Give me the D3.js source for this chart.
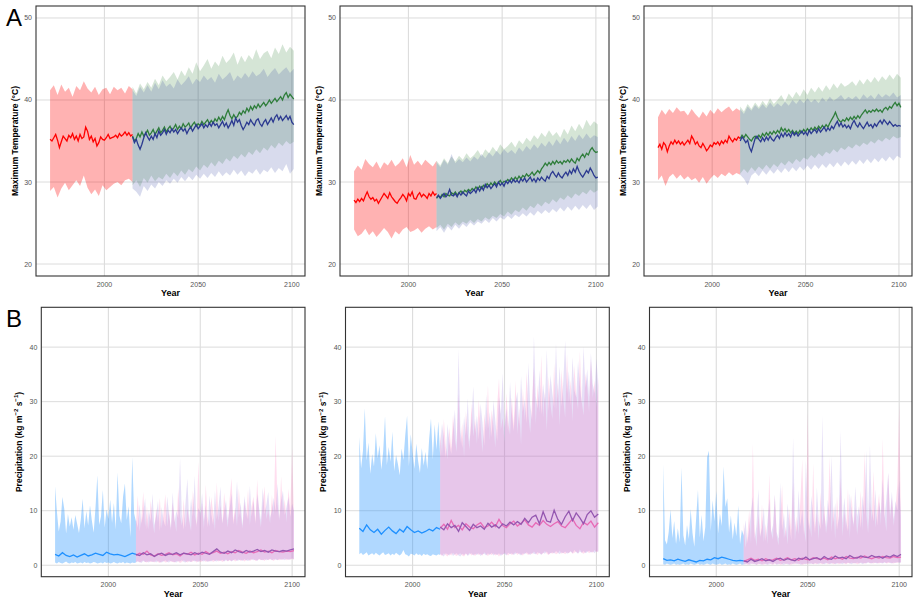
<!DOCTYPE html>
<html>
<head>
<meta charset="utf-8">
<script src="https://cdn.jsdelivr.net/npm/d3@7"></script>
<style>
  body { margin: 0; background: #fff; }
  svg { display: block; font-family: "Liberation Sans", Arial, sans-serif; }
</style>
</head>
<body>
<svg id="chart" width="920" height="603"></svg>
<script>
// ---- time axis ----
const histStart = 1971;
const futStart = 2015;
const yearTicks = [2000, 2050, 2100];
const tempTicks = [20, 30, 40, 50];
const precTicks = [0, 10, 20, 30, 40];

// ---- A1 : temperature, hist yearly means, bands every 2 years ----
const a1HistMean = [35.2,35.0,35.4,35.8,35.1,34.2,34.9,35.6,35.3,35.0, 35.7,35.4,35.9,35.2,35.6,35.0,35.8,35.3,35.5,36.7, 36.2,35.2,35.6,34.9,35.3,34.4,34.8,35.5,35.2,35.1, 35.4,35.8,35.3,35.4,35.5,35.7,35.4,35.9,35.6,35.8, 36.1,35.7,36.0,35.6,35.8];
const a1HistHi = [41.2,41.8,40.6,41.9,41.0,41.5,40.4,41.7,41.2,42.3,41.4,40.9,41.6,40.6,41.3,41.5,40.7,41.6,41.2,41.5,40.8,41.7,41.3];
const a1HistLo = [28.9,29.4,28.1,29.2,29.9,29.0,29.6,30.2,29.5,30.8,29.3,28.5,29.1,28.3,29.6,29.0,29.4,29.8,30.0,29.6,30.2,30.4,30.0];
const a1GreenMean = [35.6,35.0,35.3,35.9,35.5,36.1,35.6,35.9,36.3,35.7, 36.0,36.4,35.8,36.2,36.6,36.0,36.3,36.7,36.1,36.5, 36.8,36.3,36.6,37.0,36.4,36.8,36.5,37.1,36.7,36.9, 37.2,36.6,37.0,37.3,36.8,37.1,36.9,37.4,37.0,37.3, 37.6,37.1,37.5,37.2,37.7,37.4,37.9,37.5,38.0,37.6, 38.3,38.8,38.1,37.7,38.2,37.8,38.0,38.5,38.2,38.7, 38.4,39.0,38.6,39.2,38.8,39.3,39.0,39.5,39.1,39.4, 39.7,39.3,39.6,40.0,39.6,39.9,40.2,39.8,40.1,40.4, 40.0,40.6,40.9,40.3,40.7,40.4,40.1];
const a1BlueMean = [35.5,34.8,35.2,34.5,34.0,34.6,35.4,36.0,35.5,35.1, 35.6,35.2,35.9,35.4,36.2,35.7,36.0,36.4,35.8,36.3, 36.0,36.5,36.1,36.4,35.9,36.3,36.6,36.2,36.5,35.9, 36.4,36.7,36.2,36.6,37.0,36.5,36.8,37.1,36.6,37.0, 36.7,37.2,36.8,37.3,36.9,37.1,36.6,37.0,37.4,36.8, 37.2,36.6,37.0,37.5,36.9,37.8,37.3,37.6,36.9,36.4, 36.8,37.3,37.0,37.6,37.2,36.9,37.5,37.7,37.1,36.8, 37.3,37.6,37.0,37.4,37.8,37.3,37.9,38.2,37.6,38.0, 37.5,37.8,38.1,37.6,38.0,37.3,37.0];
const a1GreenHi = [41.6,40.8,42.0,41.3,42.2,41.5,42.6,41.8,43.0,42.3, 42.8,43.4,42.5,43.6,42.9,44.0,43.2,44.6,43.5,44.2, 45.0,43.8,44.7,44.1,45.4,44.5,45.0,45.8,44.3,45.4, 44.6,45.5,44.9,46.2,45.0,45.7,46.0,45.1,46.4,45.6, 46.8,45.8,46.5,46.0];
const a1BlueHi = [41.2,40.5,41.6,40.9,41.8,41.0,42.1,41.3,42.4,41.6, 42.0,41.4,42.5,41.8,42.3,42.9,41.9,42.6,42.2,43.0, 42.4,42.8,42.1,43.2,42.5,42.9,43.4,42.3,43.0,42.6, 43.3,42.7,43.5,42.9,43.2,43.8,42.8,43.4,43.9,43.1, 43.6,44.0,43.3,43.8];
const a1GreenLo = [29.6,30.2,29.4,30.5,29.9,30.8,30.1,30.6,30.3,31.0, 30.5,31.2,30.7,31.4,30.9,31.6,31.2,31.9,31.4,32.1, 31.7,32.4,31.9,32.6,32.2,32.9,32.5,33.2,32.8,33.4, 33.0,33.7,33.3,34.0,33.5,34.2,33.8,34.5,34.1,34.8, 34.4,35.0,34.6,34.9];
const a1BlueLo = [29.2,28.8,28.2,29.5,28.9,29.7,29.2,30.0,29.5,30.2, 29.8,30.4,29.9,30.6,30.1,30.7,30.2,30.9,30.4,31.0, 30.5,31.1,30.6,31.3,30.7,31.2,30.8,31.5,30.9,31.4, 30.7,31.3,31.0,31.6,30.9,31.5,31.2,31.8,31.1,31.7, 31.3,32.2,31.0,31.6];

// ---- A2 ----
const a2HistMean = [27.8,27.5,27.9,27.6,28.0,27.7,28.3,28.8,28.2,27.9, 28.1,27.7,27.9,27.4,27.8,28.2,28.6,28.3,28.0,28.7, 28.2,27.9,27.6,27.4,27.8,28.1,28.5,28.2,27.7,28.6, 28.3,28.8,28.0,27.9,28.4,28.7,28.2,28.5,28.3,28.0, 28.6,28.3,28.8,28.4,28.6];
const a2HistHi = [31.3,32.0,31.5,32.8,32.2,31.8,32.5,31.6,32.4,32.0,32.7,31.9,32.3,32.9,31.8,33.3,32.1,32.6,32.0,32.7,32.3,31.9,32.6];
const a2HistLo = [24.2,23.4,23.7,24.3,23.5,24.0,23.3,23.8,24.4,23.9,23.1,24.0,23.6,24.2,24.5,23.9,24.1,24.4,23.8,24.3,24.6,24.2,24.5];
const a2GreenMean = [28.0,28.3,28.1,28.5,28.2,28.6,28.4,28.3,28.7,28.5, 28.8,28.4,28.7,28.9,28.6,29.0,28.8,29.1,28.9,29.2, 29.0,29.4,29.1,29.5,29.2,29.6,29.4,29.8,29.5,29.9, 29.6,30.0,29.7,29.9,30.2,29.8,30.1,30.0,30.3,30.1, 30.5,30.2,30.6,30.3,30.7,30.4,30.8,30.6,31.0,30.7, 30.9,31.2,30.8,31.1,31.4,31.1,31.6,31.9,32.3,32.0, 32.4,32.1,32.5,32.2,32.6,32.3,32.5,32.2,32.6,32.4, 32.7,32.4,32.8,32.5,32.3,32.9,32.6,33.1,33.4,33.0, 33.5,33.3,33.9,34.2,33.8,33.6,33.7];
const a2BlueMean = [28.1,28.4,28.0,28.3,28.6,28.2,28.5,29.1,28.4,28.3, 28.6,28.2,28.7,28.4,28.8,28.5,28.3,28.9,28.6,28.8, 29.1,28.7,29.3,28.9,29.4,29.0,29.7,29.3,29.6,29.2, 29.5,29.8,29.4,30.0,29.6,29.9,29.5,30.1,29.8,30.2, 29.9,30.3,30.0,30.2,29.9,30.4,30.1,30.5,30.0,30.3, 30.6,30.1,30.4,30.0,30.5,30.2,30.6,30.3,30.1,30.7, 30.4,31.0,31.3,30.9,30.6,31.1,30.7,30.5,30.9,31.2, 30.8,31.4,31.0,31.6,31.2,31.9,31.3,30.9,30.6,31.0, 31.4,31.1,31.7,31.3,30.8,30.5,30.6];
const a2GreenHi = [32.6,32.0,32.9,32.3,33.1,32.5,33.2,32.7,33.5,32.9, 33.3,33.9,33.1,34.0,33.5,34.3,33.7,34.6,34.0,34.4, 34.9,34.2,35.1,34.6,35.4,34.9,35.7,35.2,36.0,35.5, 36.3,35.6,36.1,35.4,36.5,35.8,36.9,36.2,37.1,36.4, 37.6,36.8,37.4,37.0];
const a2BlueHi = [32.4,31.8,32.7,32.1,33.4,32.3,32.8,32.4,33.0,32.5, 33.1,32.7,33.4,32.9,33.6,33.1,33.8,33.3,34.0,33.5, 33.9,33.4,34.2,33.7,34.4,33.9,34.6,34.1,34.8,34.3, 35.0,34.4,35.2,34.6,35.4,34.8,35.6,35.0,35.8,35.2, 35.9,35.3,35.7,35.5];
const a2GreenLo = [24.4,24.8,24.2,24.9,24.5,25.1,24.7,25.2,24.9,25.4, 25.0,25.5,25.2,25.7,25.4,25.9,25.6,26.1,25.8,26.4, 26.0,26.6,26.3,26.9,26.5,27.1,26.8,27.4,27.0,27.6, 27.3,27.9,27.5,28.1,27.8,28.4,28.0,28.6,28.3,28.8, 28.5,29.1,28.7,29.0];
const a2BlueLo = [24.0,24.5,23.8,24.6,24.1,24.8,24.3,24.9,24.5,25.1, 24.7,25.2,24.9,25.4,25.0,25.6,25.2,25.7,25.4,25.9, 25.5,26.0,25.7,26.2,25.8,26.3,25.9,26.5,26.1,26.6, 26.2,26.7,26.3,26.9,26.4,27.0,26.5,27.1,26.6,27.2, 26.7,27.3,26.6,27.0];

// ---- A3 ----
const a3HistMean = [34.2,34.6,34.0,34.8,34.5,33.7,34.4,34.9,34.6,35.1, 34.7,35.0,34.6,34.9,34.5,34.8,35.1,34.7,35.6,35.2, 34.6,34.9,34.4,34.2,34.7,34.3,33.8,34.1,34.5,34.3, 34.8,34.6,34.9,34.5,35.0,34.7,35.1,34.8,35.6,35.2, 34.9,35.3,35.1,35.5,35.3];
const a3HistHi = [37.9,38.8,38.2,38.9,38.4,39.1,38.6,38.7,38.1,38.9,38.3,37.8,38.6,38.0,38.8,38.3,39.0,38.5,38.9,39.2,38.6,39.0,38.7];
const a3HistLo = [30.2,30.8,29.5,30.6,31.0,30.4,30.9,30.3,30.7,30.2,30.5,29.9,30.6,29.8,30.4,30.9,30.5,31.0,30.7,31.2,30.8,31.1,30.9];
const a3GreenMean = [35.3,35.7,35.4,35.8,35.5,35.2,35.0,35.4,35.6,35.3, 35.7,35.4,35.9,35.6,36.0,35.7,36.1,35.8,36.2,35.9, 36.3,36.0,36.6,36.2,36.5,36.1,36.4,36.0,36.3,35.9, 36.2,35.9,36.3,36.0,36.4,36.1,36.5,36.2,36.6,36.3, 36.7,36.4,36.8,36.5,36.9,36.6,37.0,36.7,37.2,37.6, 38.0,38.5,37.9,37.5,37.3,37.6,37.4,37.8,37.5,37.9, 37.6,38.0,37.7,38.1,37.8,38.2,38.5,38.8,38.4,38.7, 38.5,38.8,38.6,38.9,38.6,38.8,38.5,38.9,39.1,38.8, 39.2,39.0,39.4,39.7,39.3,39.6,39.1];
const a3BlueMean = [35.0,35.5,35.2,34.8,35.1,34.2,33.7,34.5,35.3,35.6, 35.2,34.9,35.4,35.0,35.5,35.1,35.6,35.2,35.0,35.4, 35.7,35.3,35.9,35.5,36.0,35.6,35.9,35.5,36.1,35.7, 36.0,35.6,35.9,36.2,35.8,36.1,35.7,36.3,35.9,36.2, 36.4,36.0,36.5,36.1,36.4,36.7,36.2,36.6,36.3,36.8, 36.5,37.0,37.4,36.8,37.2,36.7,37.0,36.6,36.9,36.5, 37.1,37.5,37.0,36.7,37.2,36.8,36.5,36.9,37.3,36.8, 37.0,36.6,37.1,36.8,37.2,37.5,37.1,37.6,37.3,37.0, 37.4,37.1,36.8,37.0,36.8,36.9,36.8];
const a3GreenHi = [39.2,38.6,39.5,38.9,39.7,39.1,39.9,39.3,40.2,39.5, 40.0,40.6,39.8,40.8,40.2,41.0,40.4,41.3,40.6,41.5, 40.9,41.6,41.0,41.8,41.2,42.0,41.4,42.1,41.6,41.9, 42.3,41.7,42.5,41.9,42.6,42.1,42.8,42.2,42.9,42.4, 43.1,42.5,43.2,42.7];
const a3BlueHi = [38.9,38.3,39.2,38.7,39.4,38.9,39.5,39.0,39.7,39.1, 39.6,39.2,39.8,39.3,40.0,39.5,40.1,39.6,40.2,39.7, 40.1,39.6,40.3,39.8,40.4,39.9,40.2,40.6,40.0,40.4, 40.1,40.5,40.0,40.7,40.2,40.6,40.1,40.8,40.3,40.7, 40.4,40.9,40.3,40.6];
const a3GreenLo = [31.0,31.6,31.1,31.8,31.3,31.9,31.5,32.1,31.6,32.2, 31.8,32.4,32.0,32.6,32.2,32.8,32.4,33.0,32.7,33.3, 32.9,33.5,33.1,33.7,33.4,34.0,33.6,34.2,33.9,34.4, 34.1,34.6,34.3,34.8,34.5,35.0,34.7,35.2,34.9,35.4, 35.1,35.6,35.3,35.5];
const a3BlueLo = [30.9,30.4,29.6,30.8,31.2,30.7,31.4,30.9,31.5,31.0, 31.6,31.1,31.7,31.2,31.8,31.3,31.9,31.4,32.0,31.5, 32.1,31.6,32.2,31.7,32.3,31.8,32.4,31.9,32.5,32.0, 32.6,32.1,32.7,32.2,32.8,32.3,32.9,32.4,33.0,32.5, 33.1,32.6,33.2,32.9];

// ---- B1 : precipitation, means every 2 years, bands yearly ----
const b1HistMean = [2.0,1.7,2.3,1.8,1.6,1.9,1.5,1.8,2.1,1.7,1.9,2.2,2.0,1.8,2.4,2.1,1.9,2.0,1.8,1.6,1.9,2.2,2.0];
const b1HistHi = [14.5,9.8,6.2,8.0,12.5,10.3,5.8,9.4,7.1,8.8, 6.5,9.2,7.6,5.9,8.4,12.2,6.8,9.9,7.3,11.0, 8.2,6.0,10.6,16.5,7.4,9.0,13.8,6.9,10.2,8.5, 12.0,7.8,11.4,6.6,17.0,9.1,7.7,12.6,15.0,8.3, 10.8,5.2,19.8,9.5,8.0];
const b1HistLo = [0.5,0.3,0.6,0.4,0.3,0.5,0.7,0.4,0.3,0.5, 0.4,0.6,0.3,0.4,0.5,0.3,0.6,0.4,0.5,0.3, 0.4,0.6,0.5,0.3,0.4,0.5,0.3,0.6,0.4,0.5, 0.3,0.4,0.6,0.4,0.3,0.5,0.4,0.6,0.3,0.5, 0.4,0.3,0.5,0.4,0.5];
const b1PinkMean = [1.8,2.2,2.0,2.6,1.9,1.7,2.1,1.8,2.0,2.3, 1.9,2.1,1.7,2.2,2.0,2.4,1.9,2.2,2.0,2.5, 2.1,2.3,2.6,2.2,2.4,2.1,2.5,2.3,2.7,2.4, 2.2,2.6,2.3,2.5,2.8,2.4,2.6,2.3,2.7,2.5, 2.4,2.6,2.5,2.7];
const b1PurpleMean = [2.0,1.8,2.3,1.9,2.1,1.6,2.0,2.2,1.8,2.1, 2.0,2.3,1.9,2.2,2.1,1.9,2.3,2.0,2.4,2.2, 2.0,2.5,3.0,2.4,2.2,2.6,2.3,2.8,2.5,2.3, 2.7,2.4,2.6,2.9,2.5,2.7,2.4,2.8,2.6,2.5, 2.7,2.6,2.8,3.0];
const b1PinkHi = [7.5,12.8,6.2,9.0,13.5,7.0,10.8,6.5,11.9,8.2, 5.8,10.5,7.9,12.4,6.8,9.6,13.0,7.2,10.1,6.4, 11.5,8.4,6.1,14.2,9.0,7.3,12.1,6.9,10.4,8.0, 6.3,13.7,9.2,7.5,19.0,8.6,11.3,6.7,14.8,8.9, 7.1,12.5,9.7,6.4,15.2,8.1,11.0,7.6,13.3,9.5, 6.9,12.2,16.0,8.3,10.6,7.2,14.1,9.3,6.8,11.7, 8.7,13.9,7.4,10.9,12.6,8.0,15.7,9.4,7.0,11.2, 14.5,8.5,10.2,7.7,12.9,9.1,23.8,11.4,8.2,16.3, 9.6,12.1,7.9,14.0,10.3,21.5,9.0];
const b1PurpleHi = [8.4,6.9,11.2,7.6,9.8,12.3,6.6,10.2,8.0,13.1, 7.4,9.1,11.8,6.3,10.7,8.3,7.1,12.6,9.4,6.8, 13.4,7.9,10.0,8.6,19.6,9.2,6.5,11.6,15.9,7.8, 12.3,8.9,16.4,7.0,10.5,9.6,13.2,8.1,11.0,6.9, 12.8,9.3,7.4,13.6,8.5,10.9,14.4,7.7,9.8,12.0, 8.2,10.4,13.1,7.5,9.9,15.4,8.8,11.5,7.3,12.7, 10.1,8.4,14.6,9.0,11.8,7.6,13.0,10.6,8.3,14.2, 9.4,11.1,13.5,8.7,10.0,12.4,9.8,15.0,8.6,11.9, 13.7,9.2,10.8,12.5,8.9,11.3,10.0];
const b1PinkLo = [0.6,0.8,0.5,0.7,0.9,0.6,0.5,0.8,0.6,0.7, 0.5,0.9,0.6,0.4,0.7,0.8,0.5,0.6,0.9,0.7, 0.6,0.5,0.8,0.7,0.4,0.6,0.9,0.7,0.5,0.8, 0.6,0.7,0.9,0.5,0.8,0.6,0.7,1.0,0.6,0.8, 0.7,0.9,0.6,0.8,1.0,0.7,0.9,0.6,0.8,1.1, 0.7,0.9,0.8,1.0,0.7,0.9,1.1,0.8,1.0,0.7, 0.9,1.1,0.8,1.0,1.2,0.8,0.9,1.1,0.9,1.0, 0.8,1.2,0.9,1.1,1.0,0.8,1.2,1.0,0.9,1.1, 1.0,1.3,0.9,1.1,1.0,1.2,1.0];
const b1PurpleLo = [0.5,0.7,0.6,0.4,0.8,0.6,0.7,0.5,0.8,0.6, 0.7,0.5,0.8,0.6,0.5,0.7,0.9,0.6,0.5,0.8, 0.7,0.6,0.5,0.8,0.7,0.9,0.6,0.5,0.8,0.7, 0.6,0.9,0.7,0.8,0.6,0.9,0.8,0.7,0.9,0.6, 0.8,0.7,1.0,0.8,0.7,0.9,0.8,1.0,0.7,0.9, 0.8,1.0,0.7,0.9,1.1,0.8,0.9,1.0,0.8,1.1, 0.9,0.8,1.0,1.1,0.9,1.0,0.8,1.2,1.0,0.9, 1.1,0.9,1.0,1.2,0.9,1.1,1.0,0.9,1.2,1.0, 1.1,0.9,1.2,1.0,1.1,1.3,1.1];

// ---- B2 ----
const b2HistMean = [6.8,6.2,7.4,6.5,6.0,6.6,5.7,6.4,7.0,6.3,5.8,6.6,6.1,7.1,6.5,6.0,6.3,5.9,6.2,6.6,6.3,6.9,6.6];
const b2HistHi = [23.5,17.8,21.0,28.8,19.2,22.5,16.8,20.4,18.1,24.2, 19.6,22.0,17.5,20.9,27.3,18.4,21.7,19.0,24.5,17.3, 20.2,18.6,16.5,21.4,19.3,23.8,27.4,18.2,24.0,20.6, 17.7,22.3,19.1,16.9,21.5,18.3,20.8,17.6,23.1,26.9, 19.4,25.8,21.2,26.4,20.0];
const b2HistLo = [2.0,2.3,1.9,2.1,2.4,1.8,2.0,2.2,1.9,2.3, 2.0,1.8,2.1,2.4,1.9,2.0,2.2,1.8,2.1,1.9, 2.3,2.0,1.8,2.1,2.8,2.0,1.9,1.6,2.1,2.0, 1.8,2.2,1.9,2.0,1.7,2.1,1.9,2.0,1.8,1.7, 2.0,1.9,1.8,2.0,1.9];
const b2PinkMean = [6.8,7.5,6.6,8.2,6.9,7.3,6.5,7.6,7.0,6.7, 7.4,7.8,6.9,7.2,7.9,7.1,8.4,7.3,6.9,7.6, 8.1,7.2,7.7,8.3,7.4,7.0,7.8,7.3,8.2,7.5, 7.1,7.6,8.0,7.2,6.9,7.7,8.5,7.3,6.7,7.9, 7.4,8.1,7.0,7.8];
const b2PurpleMean = [7.0,6.5,7.6,6.9,7.3,6.2,7.8,7.1,6.4,7.5, 6.9,7.2,6.6,7.7,7.0,7.4,6.8,7.6,7.2,7.9, 7.4,8.0,7.5,8.6,7.8,8.8,9.2,7.6,9.8,8.1, 7.9,10.1,8.4,7.5,8.9,9.9,8.2,9.6,8.7,7.6, 9.3,10.0,8.8,9.4];
const b2PinkHi = [24.5,20.2,26.8,22.0,19.5,25.3,21.4,27.6,23.0,20.8, 31.5,22.4,26.1,19.8,28.3,24.0,21.2,29.7,23.6,26.9, 22.3,30.4,25.1,20.7,27.8,24.6,33.0,22.9,28.5,25.4, 21.6,29.2,34.3,24.8,27.0,22.5,31.6,26.3,23.9,30.8, 25.7,33.8,24.1,28.9,22.2,32.4,26.6,35.5,27.4,24.3, 30.1,36.2,25.9,33.1,28.0,38.5,27.2,31.9,24.7,34.6, 29.5,26.8,37.0,28.4,33.5,25.6,35.9,30.3,27.1,38.8, 29.8,34.0,26.4,36.7,31.2,28.6,39.3,30.0,27.5,35.2, 32.6,28.1,37.8,30.7,33.9,29.0,34.5];
const b2PurpleHi = [21.8,26.0,23.3,19.7,25.9,22.6,20.4,24.7,28.5,22.1, 39.6,24.9,21.5,27.3,23.8,30.6,22.7,26.4,32.8,24.2, 27.5,23.1,29.6,26.2,21.9,31.3,25.0,28.1,23.5,30.2, 26.5,22.8,30.9,27.7,35.2,25.2,28.8,24.4,33.6,27.9, 24.6,29.9,31.8,25.5,34.7,28.2,30.5,26.1,37.1,29.4, 26.7,42.0,31.0,28.7,35.8,27.6,33.3,30.0,39.5,28.3, 34.9,31.6,28.9,40.7,30.4,36.5,29.1,33.8,41.2,31.4, 35.6,29.3,38.2,32.1,30.8,37.4,33.0,29.7,40.1,32.5, 36.0,30.9,38.9,33.2,31.5,37.9,33.0];
const b2PinkLo = [2.0,1.7,2.2,1.9,1.6,2.1,1.8,2.3,1.9,1.7, 2.0,2.2,1.8,1.6,2.1,1.9,2.3,1.8,2.0,1.7, 2.2,1.9,2.1,1.8,2.4,2.0,1.7,2.1,1.9,2.2, 1.8,2.0,1.6,2.1,1.9,2.3,2.0,1.8,2.2,1.9, 2.1,2.4,1.9,2.2,2.0,1.8,2.3,2.1,1.9,2.2, 2.0,2.5,2.1,1.9,2.3,2.0,2.2,2.6,2.1,1.9, 2.3,2.1,2.4,2.0,2.2,2.7,2.1,2.3,2.0,2.4, 2.2,2.6,2.1,2.3,2.5,2.2,2.9,2.3,2.1,2.4, 2.6,2.2,2.5,2.3,2.8,2.4,2.6];
const b2PurpleLo = [2.1,1.9,1.6,2.2,2.0,1.8,2.3,1.7,2.0,2.2, 1.8,1.6,2.1,1.9,2.2,1.7,2.0,2.2,1.8,2.1, 1.9,2.2,1.7,2.0,2.1,1.8,2.2,1.9,2.3,1.8, 2.1,1.9,2.2,1.7,2.0,2.1,1.8,2.3,2.0,2.2, 1.9,2.1,2.3,2.0,1.8,2.2,2.0,2.4,2.1,1.9, 2.3,2.1,2.0,2.4,2.2,1.9,2.3,2.1,2.5,2.0, 2.2,2.4,2.1,2.6,2.3,2.0,2.4,2.2,2.5,2.1, 2.3,2.5,2.2,2.8,2.4,2.1,2.5,2.3,2.6,2.2, 2.4,2.7,2.3,2.5,2.2,2.6,2.4];

// ---- B3 ----
const b3HistMean = [1.2,0.9,1.0,0.8,1.1,0.9,0.7,1.0,0.8,0.6,0.9,0.8,1.1,1.0,1.4,1.2,1.5,1.3,1.1,0.9,0.8,0.9,0.8];
const b3HistHi = [18.5,4.6,3.8,6.1,10.2,5.0,8.1,3.9,6.8,4.2, 17.9,5.5,3.6,7.4,4.8,10.3,5.9,3.4,8.6,13.8, 5.1,9.2,4.4,7.0,19.8,21.0,6.3,11.9,8.0,13.6, 5.8,9.5,7.2,18.1,10.7,12.3,6.0,9.1,4.7,7.8, 5.3,10.9,3.9,6.5,5.4];
const b3HistLo = [0.2,0.1,0.3,0.2,0.1,0.2,0.3,0.1,0.2,0.1, 0.2,0.3,0.1,0.2,0.1,0.3,0.2,0.1,0.2,0.3, 0.1,0.2,0.1,0.2,0.3,0.2,0.1,0.3,0.2,0.1, 0.2,0.3,0.1,0.2,0.3,0.1,0.2,0.1,0.3,0.2, 0.1,0.2,0.3,0.1,0.2];
const b3PinkMean = [0.7,1.0,1.3,0.9,1.1,0.8,1.2,0.9,1.0,1.3, 0.9,1.1,1.4,1.0,1.2,0.9,1.3,1.1,1.0,1.4, 1.2,1.1,1.3,1.0,1.5,1.2,1.4,1.1,1.6,1.3, 1.2,1.5,1.3,1.7,1.4,1.2,1.5,1.3,1.6,1.4, 1.3,1.6,1.4,1.5];
const b3PurpleMean = [0.8,0.6,1.1,0.7,0.9,1.2,0.8,1.0,0.7,1.1, 1.3,0.9,1.2,1.0,0.8,1.3,1.1,1.5,1.0,1.2, 1.4,1.0,1.6,1.2,1.1,1.7,1.3,1.5,1.2,1.8, 1.4,1.3,1.7,1.5,1.4,1.8,1.5,1.6,1.3,1.7, 1.5,1.9,1.6,2.0];
const b3PinkHi = [7.8,3.2,5.4,10.1,4.0,22.3,6.2,3.5,9.4,5.0, 11.2,4.3,7.6,3.9,16.8,6.0,4.7,12.9,5.5,3.6, 8.8,14.7,4.9,7.1,3.8,10.4,6.3,15.2,4.5,9.0, 5.7,12.1,19.4,6.6,4.2,28.0,7.9,5.1,18.6,6.8, 9.7,4.6,13.4,7.3,11.0,5.8,8.4,19.9,6.1,10.8, 4.8,12.6,7.5,16.1,5.3,9.9,6.7,14.0,5.0,12.9, 7.0,10.5,5.6,8.7,13.6,6.4,20.8,9.3,5.9,11.7, 8.1,17.3,6.9,10.0,13.1,7.4,23.2,9.1,6.2,16.9, 8.5,12.4,7.2,10.6,14.8,29.6,6.8];
const b3PurpleHi = [5.6,8.3,4.1,6.7,9.8,12.5,4.8,7.4,14.0,5.3, 6.9,10.6,4.4,8.0,12.2,5.9,7.3,13.0,6.1,4.9, 15.1,6.4,9.6,5.2,11.3,7.7,4.6,23.4,8.5,6.0, 13.8,7.1,10.2,5.5,19.3,8.8,6.3,12.7,9.1,5.8, 14.3,8.2,6.6,27.4,9.5,7.0,12.0,8.6,20.1,7.8, 11.4,6.5,9.0,24.6,7.9,12.4,8.3,6.2,13.2,9.6, 7.5,14.5,8.9,10.8,6.8,12.8,9.2,21.1,7.6,22.0, 10.4,8.0,13.9,7.3,11.6,9.4,15.8,8.7,12.3,17.0, 9.3,13.5,8.4,11.8,10.1,15.6,9.0];
const b3PinkLo = [0.2,0.3,0.1,0.2,0.4,0.2,0.3,0.1,0.2,0.3, 0.2,0.1,0.3,0.2,0.4,0.2,0.1,0.3,0.2,0.3, 0.1,0.2,0.4,0.2,0.3,0.2,0.1,0.3,0.2,0.4, 0.2,0.3,0.1,0.2,0.3,0.2,0.4,0.3,0.2,0.3, 0.2,0.4,0.3,0.2,0.3,0.5,0.2,0.3,0.4,0.2, 0.3,0.4,0.2,0.3,0.5,0.3,0.2,0.4,0.3,0.5, 0.3,0.4,0.2,0.3,0.5,0.4,0.3,0.4,0.6,0.3, 0.4,0.3,0.5,0.4,0.3,0.5,0.4,0.6,0.3,0.4, 0.5,0.4,0.3,0.5,0.4,0.6,0.5];
const b3PurpleLo = [0.1,0.2,0.3,0.1,0.2,0.3,0.2,0.1,0.3,0.2, 0.1,0.3,0.2,0.1,0.2,0.3,0.2,0.4,0.1,0.2, 0.3,0.2,0.1,0.3,0.2,0.1,0.3,0.2,0.4,0.2, 0.3,0.1,0.2,0.3,0.2,0.4,0.2,0.3,0.2,0.4, 0.3,0.2,0.4,0.3,0.2,0.3,0.4,0.2,0.3,0.4, 0.2,0.3,0.4,0.3,0.2,0.4,0.3,0.5,0.3,0.2, 0.4,0.3,0.5,0.3,0.4,0.2,0.4,0.3,0.5,0.4, 0.3,0.5,0.4,0.3,0.5,0.4,0.3,0.5,0.4,0.6, 0.4,0.3,0.5,0.4,0.6,0.4,0.5];

// ---- styles ----
const tempStyle = {
  hist: { fill: '#ff0000', opacity: 0.3, line: '#ff0000' },
  fut: [
    { fill: '#2e7d32', opacity: 0.2, line: '#2e7d3a' },
    { fill: '#303f9f', opacity: 0.19, line: '#2b3990' }
  ]
};
const precStyle = {
  hist: { fill: '#1e90ff', opacity: 0.35, line: '#1e90ff' },
  fut: [
    { fill: '#ff69b4', opacity: 0.22, line: '#e86ab6' },
    { fill: '#9370db', opacity: 0.22, line: '#9457b0' }
  ]
};

const topBox = { y0: 6, y1: 276 };
const botBox = { y0: 307.3, y1: 576.7 };

const panels = [
  { label: 'A', x0: 36, x1: 305, box: topBox, kind: 'temp', lineStep: 1, bandStep: 2,
    hist: [a1HistMean, a1HistHi, a1HistLo],
    fut: [[a1GreenMean, a1GreenHi, a1GreenLo], [a1BlueMean, a1BlueHi, a1BlueLo]] },
  { x0: 340, x1: 609, box: topBox, kind: 'temp', lineStep: 1, bandStep: 2,
    hist: [a2HistMean, a2HistHi, a2HistLo],
    fut: [[a2GreenMean, a2GreenHi, a2GreenLo], [a2BlueMean, a2BlueHi, a2BlueLo]] },
  { x0: 644, x1: 912, box: topBox, kind: 'temp', lineStep: 1, bandStep: 2,
    hist: [a3HistMean, a3HistHi, a3HistLo],
    fut: [[a3GreenMean, a3GreenHi, a3GreenLo], [a3BlueMean, a3BlueHi, a3BlueLo]] },
  { label: 'B', x0: 41.3, x1: 305, box: botBox, kind: 'prec', lineStep: 2, bandStep: 1,
    hist: [b1HistMean, b1HistHi, b1HistLo],
    fut: [[b1PinkMean, b1PinkHi, b1PinkLo], [b1PurpleMean, b1PurpleHi, b1PurpleLo]] },
  { x0: 345.5, x1: 609.3, box: botBox, kind: 'prec', lineStep: 2, bandStep: 1,
    hist: [b2HistMean, b2HistHi, b2HistLo],
    fut: [[b2PinkMean, b2PinkHi, b2PinkLo], [b2PurpleMean, b2PurpleHi, b2PurpleLo]] },
  { x0: 649.5, x1: 912, box: botBox, kind: 'prec', lineStep: 2, bandStep: 1,
    hist: [b3HistMean, b3HistHi, b3HistLo],
    fut: [[b3PinkMean, b3PinkHi, b3PinkLo], [b3PurpleMean, b3PurpleHi, b3PurpleLo]] }
];

const svg = d3.select('#chart');

const toPoints = (vals, start, step) => vals.map((v, i) => ({ year: start + i * step, v }));
const toBand = (hi, lo, start, step) =>
  d3.range(Math.min(hi.length, lo.length)).map(i => ({ year: start + i * step, hi: hi[i], lo: lo[i] }));

function drawPanel(p, idx) {
  const isTemp = p.kind === 'temp';
  const style = isTemp ? tempStyle : precStyle;
  const x = d3.scaleLinear().domain([1963.5, 2107]).range([p.x0, p.x1]);
  const y = d3.scaleLinear()
    .domain(isTemp ? [18.54, 51.46] : [-2.1, 47.3])
    .range([p.box.y1, p.box.y0]);
  const yTicks = isTemp ? tempTicks : precTicks;

  const g = svg.append('g');

  // grid
  g.selectAll('.gy').data(yTicks).enter().append('line')
    .attr('x1', p.x0).attr('x2', p.x1)
    .attr('y1', d => y(d)).attr('y2', d => y(d))
    .attr('stroke', '#dcdcdc').attr('stroke-width', 1);
  g.selectAll('.gx').data(yearTicks).enter().append('line')
    .attr('y1', p.box.y0).attr('y2', p.box.y1)
    .attr('x1', d => x(d)).attr('x2', d => x(d))
    .attr('stroke', '#dcdcdc').attr('stroke-width', 1.1);

  const area = d3.area().x(d => x(d.year)).y0(d => y(d.lo)).y1(d => y(d.hi));
  const line = d3.line().x(d => x(d.year)).y(d => y(d.v));

  // bands
  g.append('path')
    .datum(toBand(p.hist[1], p.hist[2], histStart, p.bandStep))
    .attr('d', area).attr('fill', style.hist.fill).attr('fill-opacity', style.hist.opacity);
  p.fut.forEach((s, k) => {
    g.append('path')
      .datum(toBand(s[1], s[2], futStart, p.bandStep))
      .attr('d', area).attr('fill', style.fut[k].fill).attr('fill-opacity', style.fut[k].opacity);
  });

  // mean lines
  g.append('path')
    .datum(toPoints(p.hist[0], histStart, p.lineStep))
    .attr('d', line).attr('fill', 'none')
    .attr('stroke', style.hist.line).attr('stroke-width', 1.3);
  p.fut.forEach((s, k) => {
    g.append('path')
      .datum(toPoints(s[0], futStart, p.lineStep))
      .attr('d', line).attr('fill', 'none')
      .attr('stroke', style.fut[k].line).attr('stroke-width', 1.3);
  });

  // frame
  g.append('rect')
    .attr('x', p.x0).attr('y', p.box.y0)
    .attr('width', p.x1 - p.x0).attr('height', p.box.y1 - p.box.y0)
    .attr('fill', 'none').attr('stroke', '#333').attr('stroke-width', 1.1);

  // tick labels
  g.selectAll('.ty').data(yTicks).enter().append('text')
    .attr('x', p.x0 - 4).attr('y', d => y(d) + 2.5)
    .attr('text-anchor', 'end').attr('font-size', 7).attr('fill', '#555')
    .text(d => d);
  g.selectAll('.tx').data(yearTicks).enter().append('text')
    .attr('x', d => x(d)).attr('y', p.box.y1 + 10.5)
    .attr('text-anchor', 'middle').attr('font-size', 7).attr('fill', '#555')
    .text(d => d);

  // axis titles
  g.append('text')
    .attr('x', (p.x0 + p.x1) / 2).attr('y', p.box.y1 + 20)
    .attr('text-anchor', 'middle').attr('font-size', 9).attr('font-weight', 'bold')
    .attr('fill', '#000').text('Year');

  const cy = (p.box.y0 + p.box.y1) / 2;
  const tx = p.x0 - (isTemp ? 18 : 19.5);
  const yt = g.append('text')
    .attr('transform', `translate(${tx},${cy}) rotate(-90)`)
    .attr('text-anchor', 'middle').attr('font-size', 8.5).attr('font-weight', 'bold')
    .attr('fill', '#000');
  if (isTemp) {
    yt.text('Maximum Temperature (°C)');
  } else {
    yt.append('tspan').text('Precipitation (kg m');
    yt.append('tspan').attr('dy', -3.5).attr('font-size', 6).text('−2');
    yt.append('tspan').attr('dy', 3.5).text(' s');
    yt.append('tspan').attr('dy', -3.5).attr('font-size', 6).text('−1');
    yt.append('tspan').attr('dy', 3.5).text(')');
  }

  if (p.label) {
    svg.append('text')
      .attr('x', 6).attr('y', p.box.y0 + 20)
      .attr('font-size', 24).attr('fill', '#000')
      .text(p.label);
  }
}

panels.forEach(drawPanel);
</script>
</body>
</html>
